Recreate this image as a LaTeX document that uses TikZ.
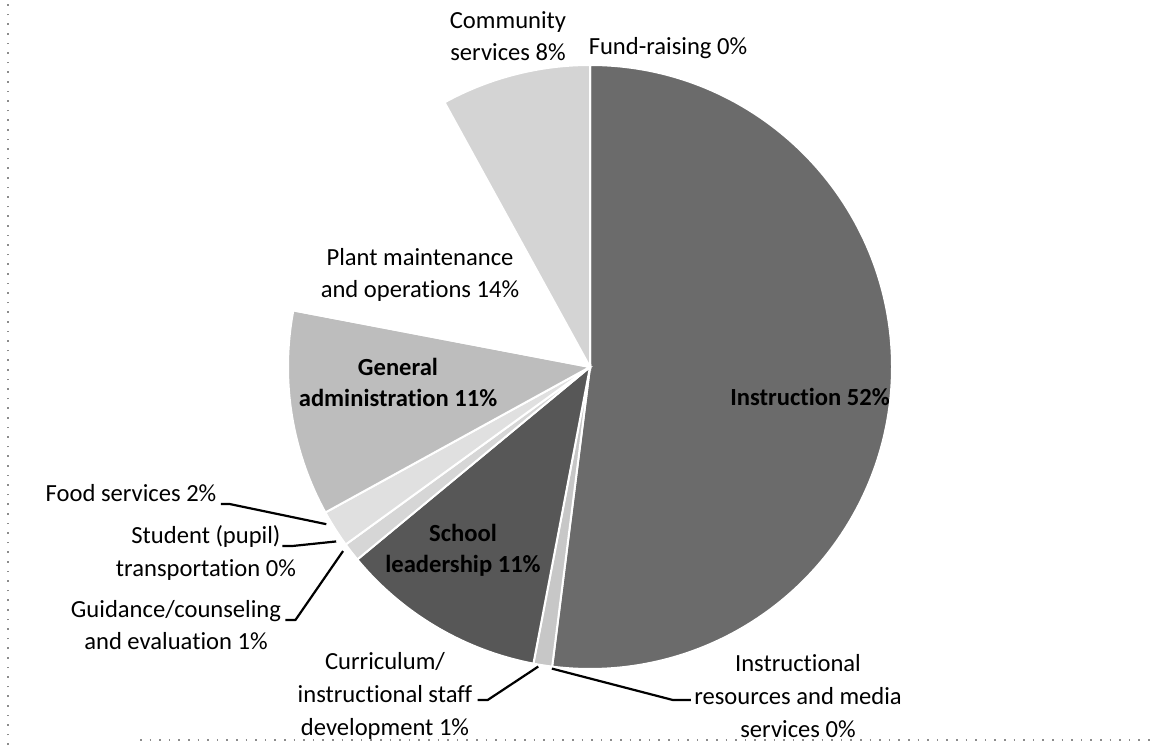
\documentclass[tikz,border=0pt]{standalone}
\usepackage{fontspec}
\setmainfont{Carlito}[Ligatures=NoCommon]
\begin{document}
\begin{tikzpicture}[x=0.5pt, y=0.5pt,
  slice/.style={draw=white, line width=1pt},
  lbl/.style={font=\fontsize{12.3}{16.3}\selectfont, align=center, inner sep=0pt},
  inlbl/.style={lbl, font=\fontsize{12.3}{15.5}\selectfont\bfseries},
  leader/.style={line width=1.1pt, line join=round},
  frame/.style={black!45, line width=0.6pt, dash pattern=on 0.8pt off 4pt}]
\useasboundingbox (0, 0) rectangle (1157, 745);
\draw[frame] (8, 0) -- (8, 745);
\draw[frame] (140, 5) -- (1150, 5);

\path (590, 378) coordinate (c);
\def\R{302}
\foreach \a/\b/\shade in {90/-97.2/black!58, -97.2/-100.8/black!22,
    -100.8/-140.4/black!66, -140.4/-144/black!16, -144/-151.2/black!12,
    -151.2/-190.8/black!26, -190.8/-241.2/white, -241.2/-270/black!17}
  \filldraw[slice, fill=\shade] (c) -- ++(\a:\R) arc[start angle=\a, end angle=\b, radius=\R] -- cycle;

%%%%%%%%%%%%%%%%%%%%%%%%%%%%%%%%%%%%%%%%

\path (c) ++(-97.2:304) coordinate (pIrm);
\path (c) ++(-99.8:304) coordinate (pCur);
\path (c) ++(-143.3:308) coordinate (pGuid);
\path (c) ++(-145.5:308) coordinate (pStud);
\path (c) ++(-149.2:307) coordinate (pFood);

\node[inlbl] (instr) at (810, 348) {Instruction 52\%};
\node[inlbl] (lead) at (463, 195) {School\\leadership 11\%};
\node[inlbl] (admin) at (398, 363) {General\\administration 11\%};
\node[lbl] (plant) at (420, 470) {Plant maintenance\\and operations 14\%};
\node[lbl] (comm) at (508, 709) {Community\\services 8\%};
\node[lbl] (fund) at (668, 697) {Fund-raising 0\%};
\node[lbl] (food) at (131, 252) {Food services 2\%};
\node[lbl] (stud) at (206, 192) {Student (pupil)\\transportation 0\%};
\node[lbl] (guid) at (176, 120) {Guidance/counseling\\and evaluation 1\%};
\node[lbl] (cur) at (385, 49) {Curriculum/\\instructional staff\\development 1\%};
\node[lbl] (irm) at (798, 49) {Instructional\\resources and media\\services 0\%};

\draw[leader] (food.south east) ++(4, -2) -- ++(9, 0) -- (pFood);
\draw[leader] (stud.east) ++(-14, 7) -- ++(10, 0) -- (pStud);
\draw[leader] (guid.east) ++(4, 5) -- ++(10, 0) -- (pGuid);
\draw[leader] (cur.east) ++(5, -4) -- ++(10, 0) -- (pCur);
\draw[leader] (irm.west) ++(-3, -4) -- ++(-18, 0) -- (pIrm);
\end{tikzpicture}
\end{document}
